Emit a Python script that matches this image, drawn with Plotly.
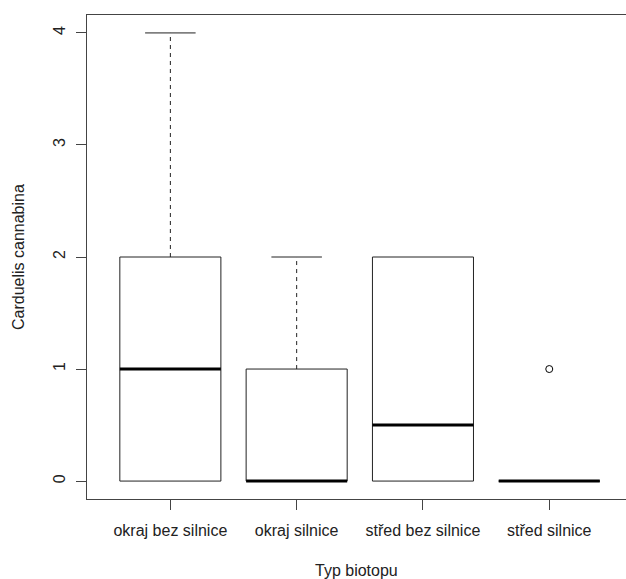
import plotly.graph_objects as go

categories = ["okraj bez silnice", "okraj silnice", "střed bez silnice", "střed silnice"]
lower = [0, 0, 0, 0]
q1 = [0, 0, 0, 0]
median = [1, 0, 0.5, 0]
q3 = [2, 1, 2, 0]
upper = [4, 2, 2, 0]
outliers = [[], [], [], [1]]

y_ticks = [0, 1, 2, 3, 4]

FONT = "Liberation Sans, Arial, sans-serif"
HALF = 0.4      # half box width
STAP = 0.2      # half staple width
LINE = "#222222"

fig = go.Figure()

for i, cat in enumerate(categories):
    x = i + 1
    # whiskers (dashed)
    if upper[i] > q3[i]:
        fig.add_trace(go.Scatter(x=[x, x], y=[q3[i], upper[i]], mode="lines",
                                 line=dict(color=LINE, width=1, dash="4px,4px"),
                                 hoverinfo="skip", showlegend=False))
        fig.add_trace(go.Scatter(x=[x - STAP, x + STAP], y=[upper[i], upper[i]], mode="lines",
                                 line=dict(color=LINE, width=1),
                                 hoverinfo="skip", showlegend=False))
    if lower[i] < q1[i]:
        fig.add_trace(go.Scatter(x=[x, x], y=[lower[i], q1[i]], mode="lines",
                                 line=dict(color=LINE, width=1, dash="4px,4px"),
                                 hoverinfo="skip", showlegend=False))
        fig.add_trace(go.Scatter(x=[x - STAP, x + STAP], y=[lower[i], lower[i]], mode="lines",
                                 line=dict(color=LINE, width=1),
                                 hoverinfo="skip", showlegend=False))
    # box
    fig.add_trace(go.Scatter(x=[x - HALF, x + HALF, x + HALF, x - HALF, x - HALF],
                             y=[q1[i], q1[i], q3[i], q3[i], q1[i]], mode="lines",
                             line=dict(color=LINE, width=1),
                             hoverinfo="skip", showlegend=False))
    # median
    fig.add_trace(go.Scatter(x=[x - HALF, x + HALF], y=[median[i], median[i]], mode="lines",
                             line=dict(color="black", width=3),
                             hoverinfo="skip", showlegend=False))
    # outliers
    if outliers[i]:
        fig.add_trace(go.Scatter(x=[x] * len(outliers[i]), y=outliers[i], mode="markers",
                                 marker=dict(symbol="circle-open", size=7,
                                             color="black", line=dict(width=1)),
                                 hoverinfo="skip", showlegend=False))

fig.update_layout(
    width=626, height=579,
    margin=dict(l=87, r=0, t=15, b=80),
    plot_bgcolor="white", paper_bgcolor="white",
    font=dict(family=FONT, size=16, color="#222222"),
    xaxis=dict(range=[0.34, 0.34 + 539 / 126.3], tickvals=[1, 2, 3, 4], ticktext=categories,
               showgrid=False, zeroline=False, showline=True, mirror=True,
               linecolor="#444444", linewidth=1, ticks="outside", ticklen=10,
               tickcolor="#444444", tickfont=dict(size=16), ticklabelstandoff=7),
    yaxis=dict(range=[-0.16, 4.16], tickvals=y_ticks, ticktext=[str(v) for v in y_ticks],
               showgrid=False, zeroline=False, showline=True, mirror=False,
               linecolor="#444444", linewidth=1, ticks="outside", ticklen=10,
               tickcolor="#444444", tickangle=-90, tickfont=dict(size=16),
               ticklabelstandoff=5),
    annotations=[
        dict(text="Typ biotopu", xref="paper", yref="paper", x=0.5, y=(498.7 - 570) / 483.7,
             xanchor="center", yanchor="middle", showarrow=False, font=dict(size=16)),
        dict(text="Carduelis cannabina", xref="paper", yref="paper", x=(18 - 87) / 539, y=0.5,
             xanchor="center", yanchor="middle", textangle=-90, showarrow=False,
             font=dict(size=16)),
    ],
)

fig.write_html("out.html")
